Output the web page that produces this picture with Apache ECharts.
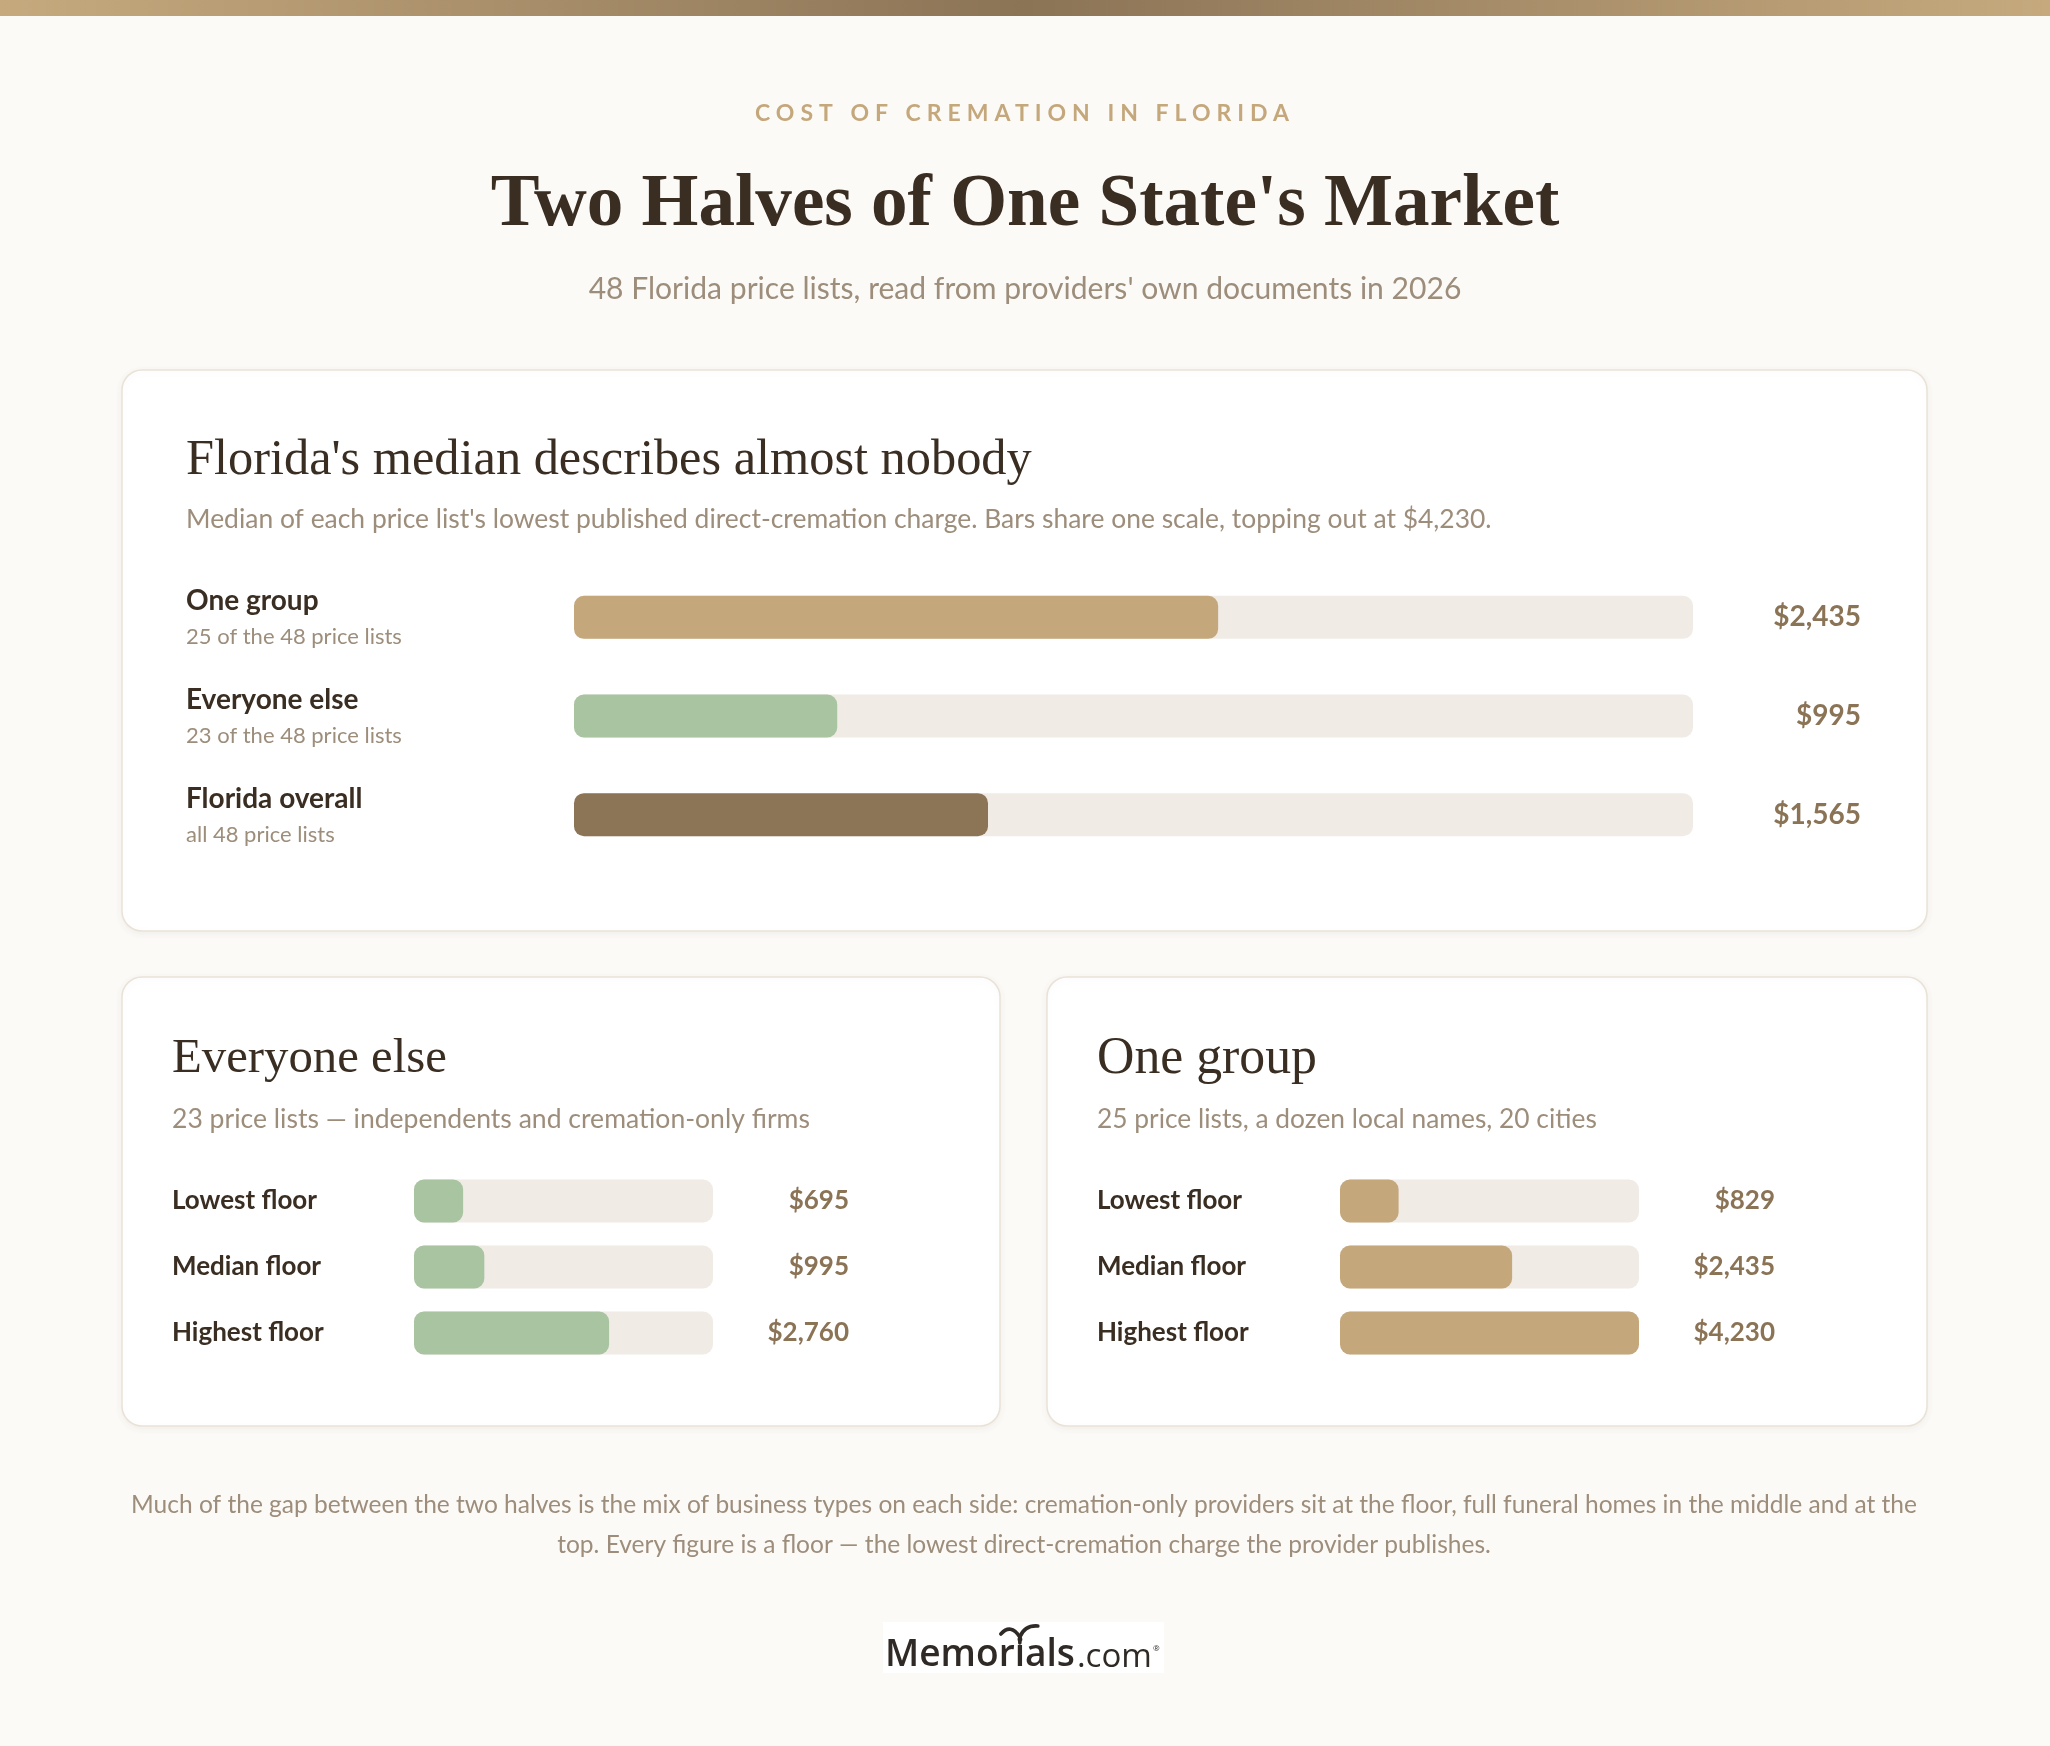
<!DOCTYPE html>
<html><head><meta charset="utf-8">
<script src="https://cdn.jsdelivr.net/npm/echarts@6/dist/echarts.min.js"></script>
<style>html,body{margin:0;padding:0;background:#fcfaf7}#c{width:2050px;height:1746px}</style>
</head><body><div id="c"></div><script>
// ---------- DATA ----------
const kicker = 'COST OF CREMATION IN FLORIDA';
const mainTitle = "Two Halves of One State's Market";
const mainSubtitle = "48 Florida price lists, read from providers' own documents in 2026";
const overviewTitle = "Florida's median describes almost nobody";
const overviewNote = "Median of each price list's lowest published direct-cremation charge. Bars share one scale, topping out at $4,230.";
const overviewCategories = ['One group', 'Everyone else', 'Florida overall'];
const overviewSubs = ['25 of the 48 price lists', '23 of the 48 price lists', 'all 48 price lists'];
const overviewValues = [2435, 995, 1565];
const floorCategories = ['Lowest floor', 'Median floor', 'Highest floor'];
const everyoneElseTitle = 'Everyone else';
const everyoneElseNote = '23 price lists \u2014 independents and cremation-only firms';
const everyoneElseFloors = [695, 995, 2760];
const oneGroupTitle = 'One group';
const oneGroupNote = '25 price lists, a dozen local names, 20 cities';
const oneGroupFloors = [829, 2435, 4230];
const scaleMax = 4230;
const footerLines = [
  'Much of the gap between the two halves is the mix of business types on each side: cremation-only providers sit at the floor, full funeral homes in the middle and at the',
  'top. Every figure is a floor \u2014 the lowest direct-cremation charge the provider publishes.'
];

// ---------- STYLE ----------
const GOLD = '#c4a77b', GREEN = '#a8c4a0', BROWN = '#8c7457';
const overviewColors = [GOLD, GREEN, BROWN];
const TRACK = '#f0ebe5';
const DARK = '#3a2e23';
const MUTED = '#9d8d7b';
const VALUE = '#8b7356';
const SANS = 'Lato, sans-serif';
const SERIF = '"Liberation Serif", serif';
const LOGO = '"Open Sans", sans-serif';

// letter spacing for the kicker only (canvas letterSpacing), state fully restored
const LS = {}; LS[kicker] = '6px';
const origFill = CanvasRenderingContext2D.prototype.fillText;
CanvasRenderingContext2D.prototype.fillText = function (t, x, y) {
  const ls = LS[t];
  if (ls && ('letterSpacing' in this)) {
    const f = this.font;
    this.save();
    this.letterSpacing = ls;
    origFill.call(this, t, x, y);
    this.letterSpacing = '0px';
    this.restore();
    this.font = '10px serif';
    this.font = f;
    return;
  }
  return origFill.apply(this, arguments);
};

const fmt = v => '$' + v.toLocaleString('en-US');

// font fitting helper (sizes chosen so text spans the reference width)
const mc = document.createElement('canvas').getContext('2d');
function fit(text, weight, family, target) {
  mc.font = weight + ' 100px ' + family;
  const s = 100 * target / mc.measureText(text).width;
  return weight + ' ' + s.toFixed(2) + 'px ' + family;
}
function width(text, font) { mc.font = font; return mc.measureText(text).width; }

function T(x, y, text, font, fill, align) {
  return { type: 'text', z: 5, style: { x, y, text, font, fill, align: align || 'left', verticalAlign: 'middle', textAlign: align || 'left', textVerticalAlign: 'middle' } };
}
function card(x, y, w, h) {
  return { type: 'rect', z: -10, shape: { x, y, width: w, height: h, r: 20 },
    style: { fill: '#ffffff', stroke: '#e9e2d7', lineWidth: 1.5, shadowBlur: 8, shadowOffsetY: 2, shadowColor: 'rgba(90,70,40,0.06)' } };
}

// logo
const logoX = 885;
const memFont = fit('Memorials', '600', LOGO, 190);
const comFont = fit('.com', 'normal', LOGO, 75);
const wMem = width('Memorials', memFont);
const wMemor = width('Memor', memFont);
const wI = width('i', memFont);
const wCom = width('.com', comFont);
const iCx = logoX + wMemor + wI / 2;
const birdStyle = { fill: null, stroke: '#2f2a26', lineWidth: 3.6, lineCap: 'round', lineJoin: 'round' };

const graphics = [
  { type: 'rect', z: -20, shape: { x: 0, y: 0, width: 2050, height: 16 },
    style: { fill: new echarts.graphic.LinearGradient(0, 0, 1, 0, [
      { offset: 0, color: '#c6aa7e' }, { offset: 0.5, color: '#8b7356' }, { offset: 1, color: '#c6aa7e' }]) } },
  T(1025, 114, kicker, 'bold 23px ' + SANS, '#c4a77b', 'center'),
  T(1025, 206, mainTitle, fit(mainTitle, 'bold', SERIF, 1069), DARK, 'center'),
  T(1025, 289, mainSubtitle, fit(mainSubtitle, 'normal', SANS, 873), MUTED, 'center'),
  card(122, 370, 1805, 561),
  T(186, 461, overviewTitle, fit(overviewTitle, 'normal', SERIF, 846), DARK),
  T(186, 519, overviewNote, fit(overviewNote, 'normal', SANS, 1306), MUTED),
  card(122, 977, 878, 449),
  T(172, 1059, everyoneElseTitle, fit(everyoneElseTitle, 'normal', SERIF, 275), DARK),
  T(172, 1119, everyoneElseNote, fit(everyoneElseNote, 'normal', SANS, 638), MUTED),
  card(1047, 977, 880, 449),
  T(1097, 1059, oneGroupTitle, fit(oneGroupTitle, 'normal', SERIF, 220), DARK),
  T(1097, 1119, oneGroupNote, fit(oneGroupNote, 'normal', SANS, 500), MUTED),
  T(1024, 1505, footerLines[0], fit(footerLines[0], 'normal', SANS, 1786), MUTED, 'center'),
  T(1024, 1545, footerLines[1], fit(footerLines[0], 'normal', SANS, 1786), MUTED, 'center'),
  { type: 'rect', z: -5, shape: { x: 883, y: 1622, width: 281, height: 51 }, style: { fill: '#ffffff' } },
  T(logoX, 1655, 'Memorials', memFont, '#2f2a26'),
  T(logoX + wMem + 2, 1658, '.com', comFont, '#2f2a26'),
  T(logoX + wMem + 3 + wCom, 1649, '\u00ae', '8px ' + LOGO, '#2f2a26'),
  { type: 'bezierCurve', z: 6, shape: { x1: iCx - 19, y1: 1634, cpx1: iCx - 9, cpy1: 1623, x2: iCx, y2: 1637 }, style: birdStyle },
  { type: 'bezierCurve', z: 6, shape: { x1: iCx, y1: 1637, cpx1: iCx + 5, cpy1: 1625, x2: iCx + 18, y2: 1626 }, style: birdStyle },
  { type: 'line', z: 6, shape: { x1: iCx, y1: 1637, x2: iCx, y2: 1643 }, style: birdStyle }
];

function barData(vals, colors) {
  return vals.map((v, i) => ({ value: v, itemStyle: { color: Array.isArray(colors) ? colors[i] : colors } }));
}
function barSeries(idx, data) {
  return { type: 'bar', xAxisIndex: idx, yAxisIndex: idx * 2, data, barWidth: 43,
    itemStyle: { borderRadius: 10 }, showBackground: true,
    backgroundStyle: { color: TRACK, borderRadius: 10 }, silent: true, animation: false };
}
function leftAxis(grid, cats, margin, rich, formatter) {
  return { type: 'category', gridIndex: grid, data: cats, inverse: true, position: 'left',
    axisLine: { show: false }, axisTick: { show: false }, splitLine: { show: false },
    axisLabel: { interval: 0, margin, align: 'left', formatter, rich } };
}
function rightAxis(grid, vals, margin, fontSize, padTop) {
  return { type: 'category', gridIndex: grid, data: vals.map(fmt), inverse: true, position: 'right',
    axisLine: { show: false }, axisTick: { show: false }, splitLine: { show: false },
    axisLabel: { interval: 0, margin, align: 'right', fontFamily: SANS, fontWeight: 'bold', fontSize, color: VALUE, padding: [padTop, 0, 0, 0] } };
}
const valueAxis = g => ({ type: 'value', gridIndex: g, min: 0, max: scaleMax, show: false });

const chart = echarts.init(document.getElementById('c'), null, { renderer: 'canvas' });
chart.setOption({
  backgroundColor: '#fcfaf7',
  animation: false,
  graphic: graphics,
  grid: [
    { left: 574, top: 568, width: 1119, height: 296 },
    { left: 414, top: 1168, width: 299, height: 198 },
    { left: 1340, top: 1168, width: 299, height: 198 }
  ],
  xAxis: [valueAxis(0), valueAxis(1), valueAxis(2)],
  yAxis: [
    leftAxis(0, overviewCategories, 388,
      { a: { fontFamily: SANS, fontWeight: 'bold', fontSize: 28, color: DARK, lineHeight: 40 },
        b: { fontFamily: SANS, fontSize: 22, color: MUTED, lineHeight: 32 } },
      (v, i) => '{a|' + v + '}\n{b|' + overviewSubs[i] + '}'),
    rightAxis(0, overviewValues, 168, 28, 9),
    leftAxis(1, floorCategories, 242,
      { a: { fontFamily: SANS, fontWeight: 'bold', fontSize: 26, color: DARK } }, v => '{a|' + v + '}'),
    rightAxis(1, everyoneElseFloors, 136, 26, 2),
    leftAxis(2, floorCategories, 243,
      { a: { fontFamily: SANS, fontWeight: 'bold', fontSize: 26, color: DARK } }, v => '{a|' + v + '}'),
    rightAxis(2, oneGroupFloors, 136, 26, 2)
  ],
  series: [
    barSeries(0, barData(overviewValues, overviewColors)),
    barSeries(1, barData(everyoneElseFloors, GREEN)),
    barSeries(2, barData(oneGroupFloors, GOLD))
  ]
});
</script></body></html>
